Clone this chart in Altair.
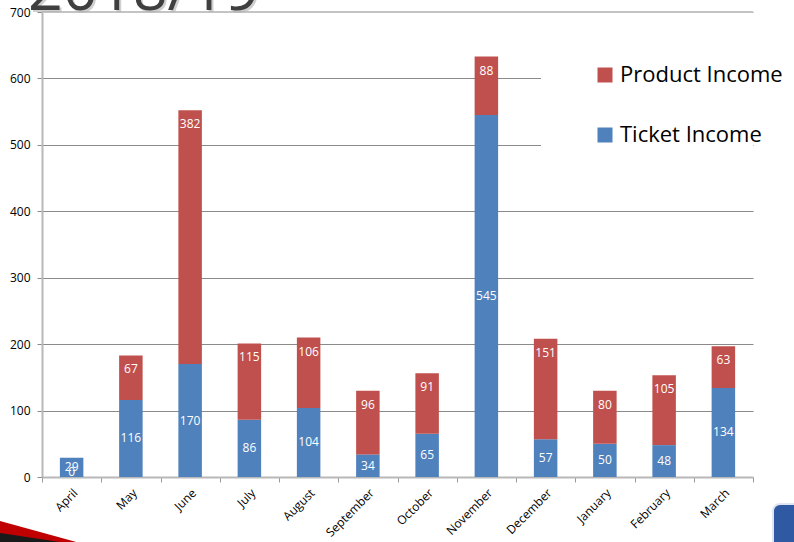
import altair as alt
import pandas as pd

months = ["April", "May", "June", "July", "August", "September", "October",
          "November", "December", "January", "February", "March"]
ticket = [29, 116, 170, 86, 104, 34, 65, 545, 57, 50, 48, 134]
product = [0, 67, 382, 115, 106, 96, 91, 88, 151, 80, 105, 63]
series = ["Product Income", "Ticket Income"]
colors = ["#C0504D", "#4F81BD"]
y_ticks = [0, 100, 200, 300, 400, 500, 600, 700]
title_text = "2018/19"

rows = []
for m, t, p in zip(months, ticket, product):
    rows.append({"month": m, "series": "Ticket Income", "value": t, "ord": 0,
                 "label_y": t / 2})
    rows.append({"month": m, "series": "Product Income", "value": p, "ord": 1,
                 "label_y": t + p})
df = pd.DataFrame(rows)
one = pd.DataFrame({"a": [0]})

FONT = "Open Sans"
yscale = alt.Scale(domain=[0, 700], nice=False)
xenc = alt.X("month:N", sort=months, scale=alt.Scale(paddingInner=0, paddingOuter=0),
             axis=alt.Axis(title=None, labelAngle=-45, tickBand="extent", grid=False,
                           domainColor="#b8b8b8", domainWidth=2, tickColor="#9a9a9a",
                           tickSize=5, labelFontSize=12, labelFont=FONT,
                           labelColor="#000000", labelPadding=5))

# white box behind legend (covers grid lines)
box = alt.Chart(one).mark_rect(color="white").encode(
    x=alt.value(499), x2=alt.value(711), y=alt.value(18), y2=alt.value(158))

bars = alt.Chart(df).mark_bar(size=23.5).encode(
    x=xenc,
    y=alt.Y("value:Q", stack="zero", scale=yscale,
            axis=alt.Axis(title=None, values=y_ticks, grid=True, gridColor="#8a8a8a",
                          domainColor="#b8b8b8", domainWidth=2, tickColor="#8a8a8a",
                          tickSize=5, labelFontSize=12, labelFont=FONT,
                          labelColor="#000000", labelPadding=7)),
    color=alt.Color("series:N", scale=alt.Scale(domain=series, range=colors),
                    legend=alt.Legend(title=None, orient="none", legendX=552, legendY=52,
                                      symbolType="square", symbolSize=225,
                                      symbolStrokeWidth=0, labelFontSize=22,
                                      labelFont=FONT, labelColor="#000000",
                                      labelLimit=400,
                                      labelOffset=4, rowPadding=38, padding=0)),
    order=alt.Order("ord:Q", sort="ascending"),
)

ticket_labels = alt.Chart(df).transform_filter(
    alt.datum.series == "Ticket Income").mark_text(
    color="white", fontSize=12, font=FONT, baseline="middle").encode(
    x=alt.X("month:N", sort=months), y=alt.Y("label_y:Q", scale=yscale),
    text="value:Q")

product_labels = alt.Chart(df).transform_filter(
    alt.datum.series == "Product Income").mark_text(
    color="white", fontSize=12, font=FONT, baseline="middle", dy=14).encode(
    x=alt.X("month:N", sort=months), y=alt.Y("label_y:Q", scale=yscale),
    text="value:Q")

top_line = alt.Chart(one).mark_rule(color="#c4c4c4", strokeWidth=2).encode(
    y=alt.datum(700), x=alt.value(0), x2=alt.value(711))

title_shadow = alt.Chart(one).mark_text(
    text=title_text, fontSize=61, font=FONT, color="#b0b0b0", align="left",
    baseline="alphabetic", opacity=0.6).encode(x=alt.value(-12), y=alt.value(0))
title = alt.Chart(one).mark_text(
    text=title_text, fontSize=61, font=FONT, color="#3f3f3f", align="left",
    baseline="alphabetic").encode(x=alt.value(-14), y=alt.value(-2))

swoosh = alt.Chart(one).mark_point(
    shape="M0,-0.22L0.8,0L0,0Z", filled=True, size=40000, color="#c00000",
    opacity=1, strokeWidth=0).encode(x=alt.value(-42), y=alt.value(531))
swoosh_edge = alt.Chart(one).mark_point(
    shape="M0,-0.12L0.8,0L0,0Z", filled=True, size=40000, color="#1a1a1a",
    opacity=1, strokeWidth=0).encode(x=alt.value(-42), y=alt.value(533))
badge = alt.Chart(one).mark_rect(color="#2f5aa3", cornerRadius=7,
                                 stroke="#dfe6f2", strokeWidth=2).encode(
    x=alt.value(731), x2=alt.value(765), y=alt.value(492), y2=alt.value(540))

chart = alt.layer(
    box, bars, ticket_labels, product_labels, top_line,
    title_shadow, title, swoosh, swoosh_edge, badge
).properties(
    width=711, height=465,
    autosize=alt.AutoSizeParams(type="none"),
    padding={"left": 42, "top": 12, "right": 41, "bottom": 65},
).configure_view(stroke=None)

chart.save("out.html", embed_options={"renderer": "svg", "actions": False})
